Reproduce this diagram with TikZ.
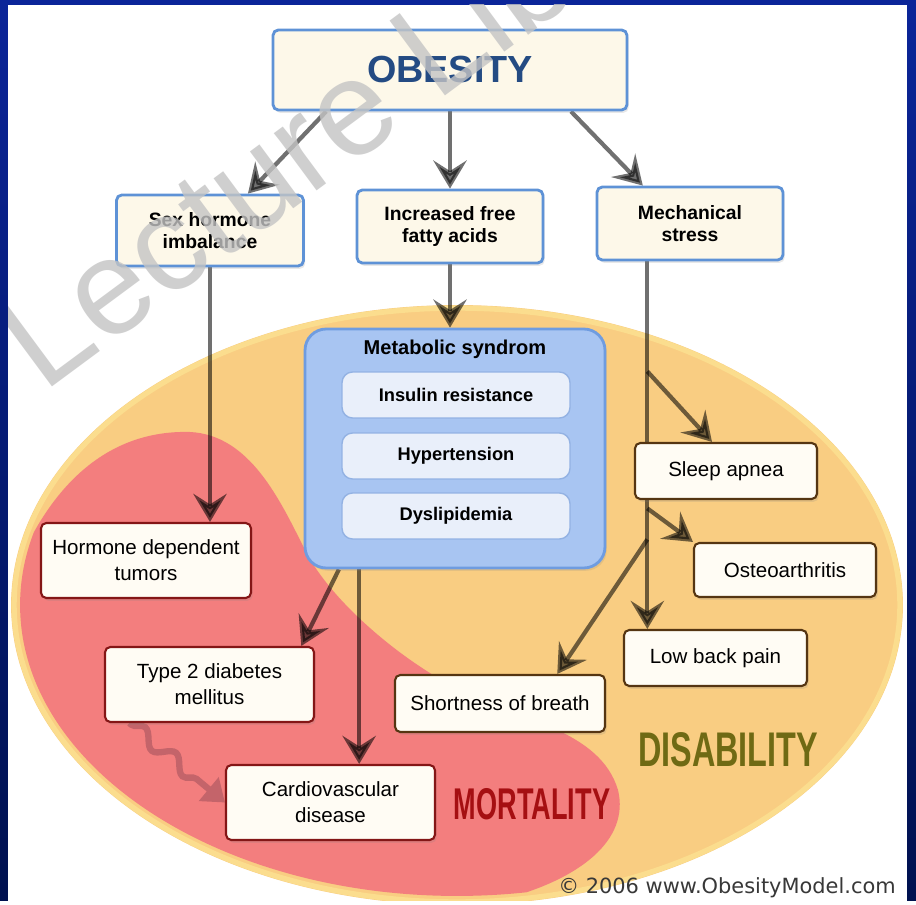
\documentclass[tikz,border=0pt]{standalone}
\usepackage{fontspec}
\usepackage{graphicx}
\setmainfont{Liberation Sans}
\newfontfamily\dejavu{DejaVu Sans}
\usetikzlibrary{arrows.meta,calc,shadows,decorations.pathmorphing}
\definecolor{frametop}{HTML}{0B2599}
\definecolor{framebot}{HTML}{00114F}
\definecolor{disorange}{HTML}{F9CD82}
\definecolor{disrim}{HTML}{FBDD8E}
\definecolor{mortred}{HTML}{F37E7E}
\definecolor{boxblue}{HTML}{5E92D6}
\definecolor{cream}{HTML}{FDF8E9}
\definecolor{obtext}{HTML}{244B83}
\definecolor{metfill}{HTML}{A8C5F2}
\definecolor{metline}{HTML}{6F9CE0}
\definecolor{subfill}{HTML}{E9EFFA}
\definecolor{subline}{HTML}{93B2E3}
\definecolor{redline}{HTML}{841616}
\definecolor{brownline}{HTML}{553512}
\definecolor{paper}{HTML}{FFFCF4}
\definecolor{olive}{HTML}{6F6A14}
\definecolor{darkred}{HTML}{A50F12}
\definecolor{wavyred}{HTML}{C4646A}
\definecolor{wmgray}{HTML}{C4C4C4}
\pgfdeclarelayer{back}
\pgfdeclarelayer{mid}
\pgfsetlayers{back,mid,main}
\begin{document}
\begin{tikzpicture}[x=0.02cm,y=-0.02cm,
  shade box/.style={drop shadow={opacity=0.18,shadow xshift=1pt,shadow yshift=-1.6pt}},
  top box/.style={shade box,draw=boxblue,line width=1.6pt,fill=cream,rounded corners=3pt,inner sep=0pt,align=center,font=\fontsize{11}{12.5}\selectfont\bfseries},
  sub box/.style={draw=subline,line width=0.8pt,fill=subfill,rounded corners=6pt,inner sep=0pt,minimum width=4.56cm,minimum height=0.92cm,font=\fontsize{10.4}{12}\selectfont\bfseries},
  mort box/.style={shade box,draw=redline,line width=1.2pt,fill=paper,rounded corners=3pt,inner sep=0pt,align=center,font=\fontsize{11.7}{14.8}\selectfont},
  dis box/.style={mort box,draw=brownline},
  arr/.style={draw=black,draw opacity=0.56,fill opacity=0.56,line width=2.4pt,-{Stealth[length=16pt,width=19pt,inset=6pt]}},
  wavy/.style={draw=wavyred,line width=3.6pt,decorate,decoration={snake,segment length=0.8cm,amplitude=0.14cm,pre length=0.05cm,post length=0.5cm},-{Triangle[length=12pt,width=17pt]}}]
\useasboundingbox (0,0) rectangle (916,905);

\begin{pgfonlayer}{back}
\shade[top color=frametop,bottom color=framebot] (0,0) rectangle (916,905);
\fill[white] (8,5) rectangle (907,901);
\fill[disorange] (457,605) ellipse [x radius=8.92cm,y radius=6cm];
\draw[disrim,line width=3pt] (457,605) ellipse [x radius=8.86cm,y radius=5.94cm];
\begin{scope}
\clip (457,605) ellipse [x radius=8.74cm,y radius=5.82cm];
\fill[mortred] (20,560) .. controls (60,470) and (120,430) .. (190,432)
  .. controls (250,435) and (280,500) .. (305,550)
  .. controls (330,600) and (400,660) .. (460,690)
  .. controls (520,720) and (600,730) .. (618,790)
  .. controls (630,840) and (580,880) .. (500,900)
  -- (500,960) -- (-40,960) -- (-40,560) -- cycle;
\end{scope}
\fill[white] (0,901) rectangle (916,905);
\end{pgfonlayer}

\node[top box,minimum width=7.08cm,minimum height=1.6cm,font=\fontsize{21.5}{24}\selectfont\bfseries,text=obtext] at (450,70) (obesity) {OBESITY};
\node[top box,minimum width=3.74cm,minimum height=1.42cm] at (210,230.5) (sex) {Sex hormone\\imbalance};
\node[top box,minimum width=3.72cm,minimum height=1.46cm] at (450,226.5) (ffa) {Increased free\\fatty acids};
\node[top box,minimum width=3.72cm,minimum height=1.46cm] at (690,223.5) (mech) {Mechanical\\stress};

\node[shade box,draw=metline,line width=1.6pt,fill=metfill,rounded corners=12pt,minimum width=6cm,minimum height=4.78cm] at (455,448.5) (metab) {};
\node[font=\fontsize{11.4}{13}\selectfont\bfseries] at (455,349) (mtitle) {Metabolic syndrom};
\node[sub box] at (456,395) (ins) {Insulin resistance};
\node[sub box] at (456,456) (hyp) {Hypertension};
\node[sub box] at (456,516) (dys) {Dyslipidemia};

\node[mort box,minimum width=4.2cm,minimum height=1.5cm] at (146,560.5) (tumor) {Hormone dependent\\tumors};
\node[mort box,minimum width=4.18cm,minimum height=1.5cm] at (209.5,684.5) (diab) {Type 2 diabetes\\mellitus};
\node[mort box,minimum width=4.18cm,minimum height=1.5cm] at (330.5,802.5) (cvd) {Cardiovascular\\disease};
\node[dis box,minimum width=4.2cm,minimum height=1.14cm] at (500,703.5) (sob) {Shortness of breath};
\node[dis box,minimum width=3.64cm,minimum height=1.12cm] at (726,471) (sleep) {Sleep apnea};
\node[dis box,minimum width=3.64cm,minimum height=1.08cm] at (785,570) (osteo) {Osteoarthritis};
\node[dis box,minimum width=3.66cm,minimum height=1.12cm] at (715.5,658) (lbp) {Low back pain};

\node[text=olive,font=\fontsize{27.7}{30}\selectfont\bfseries] at (728,749.5) (disab) {\scalebox{0.665}[1]{DISABILITY}};
\node[text=darkred,font=\fontsize{25.3}{28}\selectfont\bfseries] at (532,804) (mortal) {\scalebox{0.61}[1]{MORTALITY}};
\node[text=black!78,font=\dejavu\fontsize{11.9}{13}\selectfont] at (727,888) (copy) {© 2006 www.ObesityModel.com};

\begin{pgfonlayer}{mid}
\coordinate (trunk) at ($(mech.south west)!0.274!(mech.south east)$);
\coordinate (b1) at ($(trunk)+(0,110)$);
\coordinate (b2) at ($(trunk)+(0,247)$);
\coordinate (b3) at ($(trunk)+(0,278)$);
\coordinate (m1) at ($(metab.south west)!0.233!(metab.south)$);
\coordinate (m2) at ($(metab.south west)!0.367!(metab.south)$);
\draw[arr] ($(obesity.south west)!0.153!(obesity.south east)$) -- ($(sex.north)!0.4!(sex.north east)$);
\draw[arr] (obesity.south) -- (ffa.north);
\draw[arr] ($(obesity.south west)!0.839!(obesity.south east)$) -- ($(mech.north)!0.5!(mech.north west)$);
\draw[arr] (sex.south) -- (sex.south |- tumor.north);
\draw[arr] (ffa.south) -- (ffa.south |- metab.north);
\draw[arr] (trunk) -- (trunk |- lbp.north);
\draw[arr] (b1) -- ($(sleep.north)+(-14,0)$);
\draw[arr] (b2) -- (osteo.north west);
\draw[arr] (b3) -- ($(sob.north)!0.54!(sob.north east)$);
\draw[arr] (m1) -- ($(diab.north)!0.87!(diab.north east)$);
\draw[arr] (m2) -- (m2 |- cvd.north);
\draw[wavy] ($(diab.south west)!0.12!(diab.south east)$) -- (cvd.west);
\end{pgfonlayer}

\begin{scope}
\clip (8,5) rectangle (907,901);
\node[text=wmgray,text opacity=0.8,font=\fontsize{77}{86}\selectfont,rotate=36.5,anchor=base west] at (39,397) (wmark) {Lecture Lib};
\end{scope}
\end{tikzpicture}
\end{document}
